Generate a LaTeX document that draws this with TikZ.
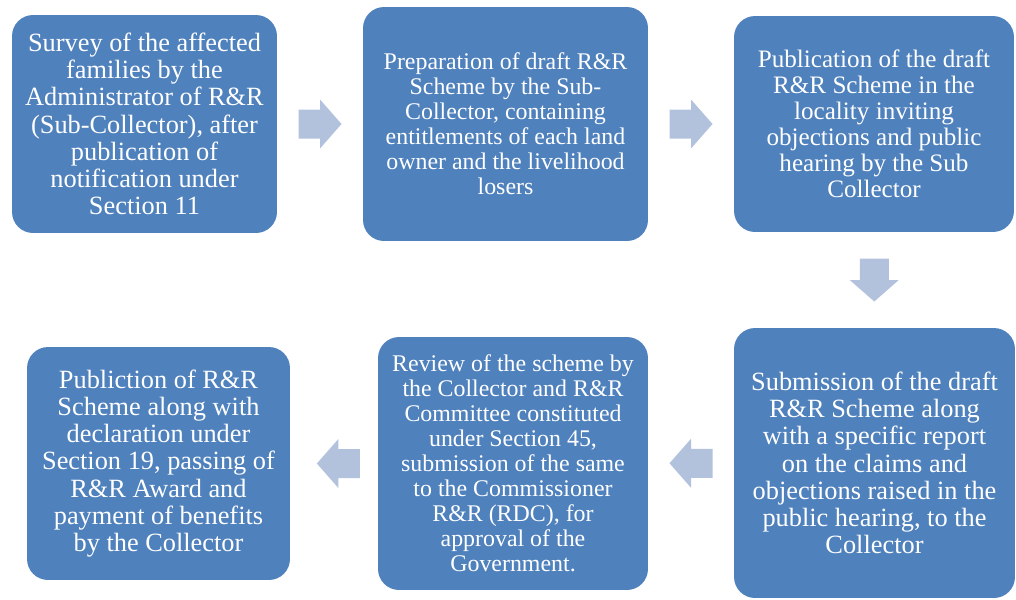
\documentclass[tikz,border=0pt]{standalone}
\usepackage{fontspec}
\setmainfont{Liberation Serif}
\usetikzlibrary{calc}
\definecolor{boxblue}{RGB}{79,129,189}
\definecolor{arrowblue}{RGB}{178,194,221}
\tikzset{
    stepbox/.style={rectangle, rounded corners=0.42cm, fill=boxblue, text=white, align=center, inner sep=0pt},
    bigtext/.style={font=\fontsize{15}{15.5}\selectfont},
    midtext/.style={font=\fontsize{14.3}{14.8}\selectfont},
    smalltext/.style={font=\fontsize{13.6}{14.2}\selectfont},
    blockarrow/.pic={\fill[arrowblue] (-21.5,-14.5) -- (0,-14.5) -- (0,-24.5) -- (21.5,0) -- (0,24.5) -- (0,14.5) -- (-21.5,14.5) -- cycle;}
}

\begin{document}
\begin{tikzpicture}[x=0.02cm, y=-0.02cm]
    \useasboundingbox (0,0) rectangle (1016,599);
    %верхний ряд
    \node[stepbox, bigtext, minimum width=5.3cm, minimum height=4.36cm] (survey) at (144.5,124) {Survey of the affected\\families by the\\Administrator of R\&R\\(Sub-Collector), after\\publication of\\notification under\\Section 11};
    \node[stepbox, smalltext, minimum width=5.7cm, minimum height=4.68cm] (draft) at (505.5,124) {Preparation of draft R\&R\\Scheme by the Sub-\\Collector, containing\\entitlements of each land\\owner and the livelihood\\losers};
    \node[stepbox, midtext, minimum width=5.6cm, minimum height=4.32cm] (publish) at (874,124) {Publication of the draft\\R\&R Scheme in the\\locality inviting\\objections and public\\hearing by the Sub\\Collector};
    %нижний ряд
    \node[stepbox, bigtext, minimum width=5.62cm, minimum height=5.4cm] (submit) at (874.5,463) {Submission of the draft\\R\&R Scheme along\\with a specific report\\on the claims and\\objections raised in the\\public hearing, to the\\Collector};
    \node[stepbox, smalltext, minimum width=5.4cm, minimum height=5.06cm] (review) at (513,463.5) {Review of the scheme by\\the Collector and R\&R\\Committee constituted\\under Section 45,\\submission of the same\\to the Commissioner\\R\&R (RDC), for\\approval of the\\Government.};
    \node[stepbox, bigtext, minimum width=5.26cm, minimum height=4.66cm] (award) at (158.5,463.5) {Publiction of R\&R\\Scheme along with\\declaration under\\Section 19, passing of\\R\&R Award and\\payment of benefits\\by the Collector};
    %стрелки
    \pic at ($(survey.east)!0.5!(draft.west)$) {blockarrow};
    \pic at ($(draft.east)!0.5!(publish.west)$) {blockarrow};
    \pic[rotate=-90] at ($(publish.south)!0.5!(submit.north)$) {blockarrow};
    \pic[rotate=180] at ($(submit.west)!0.5!(review.east)$) {blockarrow};
    \pic[rotate=180] at ($(review.west)!0.45!(award.east)$) {blockarrow};
\end{tikzpicture}
\end{document}
